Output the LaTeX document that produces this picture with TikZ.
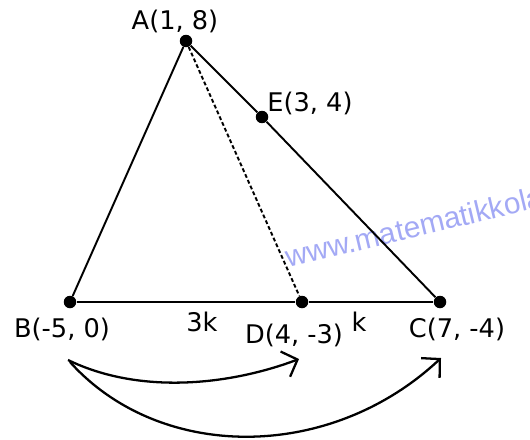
\documentclass[tikz,border=0pt]{standalone}
\usepackage{fontspec}
\setmainfont{DejaVu Sans}
\newfontfamily\wmfont{Liberation Sans}
\usepackage{xcolor}
\usetikzlibrary{arrows.meta,positioning}
\definecolor{wmblue}{HTML}{A3A9F5}
\tikzset{
  pt/.style={circle,fill=black,inner sep=0pt,minimum size=0.25cm},
  lbl/.style={inner sep=0pt,font=\fontsize{14.6}{17}\selectfont},
  side/.style={line width=1.1pt,draw=black},
  median/.style={line width=1.1pt,dash pattern=on 2.2pt off 1.4pt,draw=black},
  ratioarrow/.style={-{Straight Barb[length=2.6mm,width=5.4mm]},line width=1.3pt,draw=black}
}
\begin{document}
\begin{tikzpicture}[x=0.02cm,y=-0.02cm]
\useasboundingbox (0,0) rectangle (530,439);
% watermark
\node[anchor=base west,inner sep=0pt,rotate=13.5,text=wmblue,font=\wmfont\fontsize{17}{20}\selectfont] (wm) at (288,268) {www.matematikkolay};
% points
\node[pt] (a) at (186,41) {};
\node[pt] (e) at (262,117) {};
\node[pt] (b) at (70,302) {};
\node[pt] (d) at (302,302) {};
\node[pt] (c) at (440,302) {};
% labels
\node[lbl] (la) at (175,21) {A(1, 8)};
\node[lbl] (le) at (310,103) {E(3, 4)};
\node[lbl] (lb) at (62,329) {B(-5, 0)};
\node[lbl] (l3k) at (202,322) {3k};
\node[lbl] (ld) at (294,335) {D(4, -3)};
\node[lbl] (lk) at (359,322) {k};
\node[lbl] (lc) at (457,329) {C(7, -4)};
% triangle
\draw[side] (a) -- (b);
\draw[side] (a) -- (e);
\draw[side] (e) -- (c);
\draw[side] (b) -- (d);
\draw[side] (d) -- (c);
\draw[median] (a) -- (d);
% ratio arrows
\coordinate (s1) at (68,360);
\coordinate (t1) at (299,359);
\coordinate (s2) at (70,362);
\coordinate (t2) at (441,358);
\draw[ratioarrow] (s1) .. controls (140,395) and (230,385) .. (t1);
\draw[ratioarrow] (s2) .. controls (160,462) and (330,462) .. (t2);
\end{tikzpicture}
\end{document}
